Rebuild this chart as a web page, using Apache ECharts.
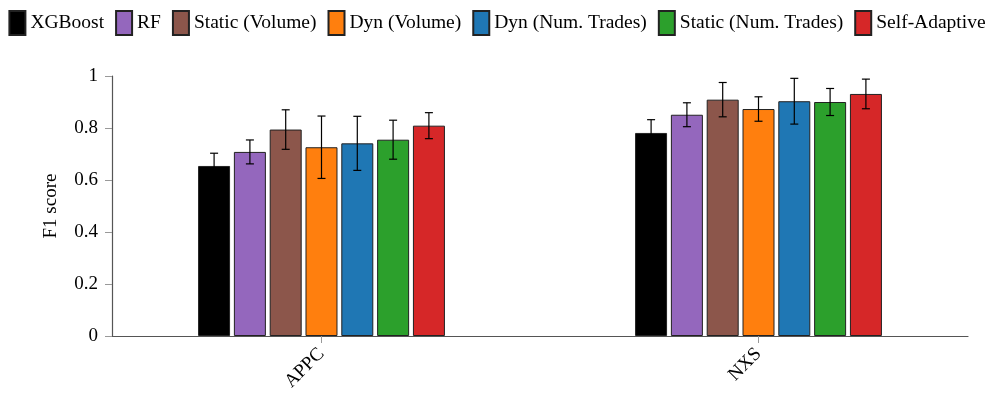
<!DOCTYPE html>
<html>
<head>
<meta charset="utf-8">
<script src="https://cdn.jsdelivr.net/npm/echarts@6/dist/echarts.min.js"></script>
<style>
  html, body { margin: 0; padding: 0; background: #fff; }
  #chart { width: 994px; height: 396px; }
</style>
</head>
<body>
<div id="chart"></div>
<script>
const categories = ['APPC', 'NXS'];
const methods = ['XGBoost', 'RF', 'Static (Volume)', 'Dyn (Volume)', 'Dyn (Num. Trades)', 'Static (Num. Trades)', 'Self-Adaptive'];
const colors = ['#000000', '#9467bd', '#8c564b', '#ff7f0e', '#1f77b4', '#2ca02c', '#d62728'];

// mean F1 per method, [APPC, NXS]
const xgboost = [0.654, 0.781];
const rf = [0.708, 0.851];
const staticVolume = [0.794, 0.909];
const dynVolume = [0.726, 0.873];
const dynTrades = [0.741, 0.903];
const staticTrades = [0.755, 0.900];
const selfAdaptive = [0.809, 0.931];

// std dev per method, [APPC, NXS]
const xgboostErr = [0.049, 0.051];
const rfErr = [0.046, 0.046];
const staticVolumeErr = [0.076, 0.066];
const dynVolumeErr = [0.120, 0.047];
const dynTradesErr = [0.104, 0.088];
const staticTradesErr = [0.075, 0.052];
const selfAdaptiveErr = [0.050, 0.057];

const means = [xgboost, rf, staticVolume, dynVolume, dynTrades, staticTrades, selfAdaptive];
const errs = [xgboostErr, rfErr, staticVolumeErr, dynVolumeErr, dynTradesErr, staticTradesErr, selfAdaptiveErr];

const yTicks = [0, 0.2, 0.4, 0.6, 0.8, 1];

const BAR_W = 32;
const PITCH = 35.8;
const FONT = '"Liberation Serif", "DejaVu Serif", serif';

const chart = echarts.init(document.getElementById('chart'), null, { renderer: 'canvas' });

const series = [];
methods.forEach((name, s) => {
  series.push({
    name: name,
    type: 'bar',
    barWidth: BAR_W,
    barGap: ((PITCH - BAR_W) / BAR_W * 100).toFixed(1) + '%',
    itemStyle: { color: colors[s], borderColor: '#222', borderWidth: 1 },
    data: means[s].map((v, i) => [i, v]),
    z: 2
  });
});
// error bars, drawn over the bars
methods.forEach((name, s) => {
  series.push({
    name: name,
    type: 'custom',
    z: 5,
    silent: true,
    data: means[s].map((v, i) => [i, v - errs[s][i], v + errs[s][i]]),
    renderItem: function (params, api) {
      const lo = api.coord([api.value(0), api.value(1)]);
      const hi = api.coord([api.value(0), api.value(2)]);
      const x = lo[0] + (s - 3) * PITCH;
      const st = { stroke: '#000', lineWidth: 1.2 };
      return {
        type: 'group',
        children: [
          { type: 'line', shape: { x1: x, y1: lo[1], x2: x, y2: hi[1] }, style: st },
          { type: 'line', shape: { x1: x - 4, y1: lo[1], x2: x + 4, y2: lo[1] }, style: st },
          { type: 'line', shape: { x1: x - 4, y1: hi[1], x2: x + 4, y2: hi[1] }, style: st }
        ]
      };
    }
  });
});

chart.setOption({
  animation: false,
  textStyle: { fontFamily: FONT },
  legend: {
    data: methods,
    top: 5,
    left: 'center',
    icon: 'rect',
    itemWidth: 16,
    itemHeight: 24,
    itemGap: 11,
    textStyle: { fontFamily: FONT, fontSize: 19.5, color: '#000' }
  },
  grid: { left: 112, right: 26, top: 76, bottom: 60, containLabel: false },
  xAxis: {
    type: 'value',
    min: -0.4794,
    max: 1.4794,
    splitLine: { show: false },
    axisLine: { onZero: false, lineStyle: { color: '#555', width: 1.2 } },
    axisTick: { show: true, customValues: [0, 1], length: 7, lineStyle: { color: '#999' } },
    axisLabel: {
      customValues: [0, 1],
      rotate: 45,
      margin: 15,
      fontFamily: FONT,
      fontSize: 19,
      color: '#000',
      formatter: v => categories[Math.round(v)]
    }
  },
  yAxis: {
    type: 'value',
    min: 0,
    max: 1,
    interval: 0.2,
    name: 'F1 score',
    nameLocation: 'middle',
    nameRotate: 90,
    nameGap: 51,
    nameTextStyle: { fontFamily: FONT, fontSize: 19, color: '#000' },
    splitLine: { show: false },
    axisLine: { show: true, onZero: false, lineStyle: { color: '#555', width: 1.2 } },
    axisTick: { show: true, length: 7, lineStyle: { color: '#999' } },
    axisLabel: {
      margin: 14,
      fontFamily: FONT,
      fontSize: 19,
      color: '#000',
      formatter: v => String(yTicks.find(t => Math.abs(t - v) < 1e-9) ?? v)
    }
  },
  series: series
});
</script>
</body>
</html>
